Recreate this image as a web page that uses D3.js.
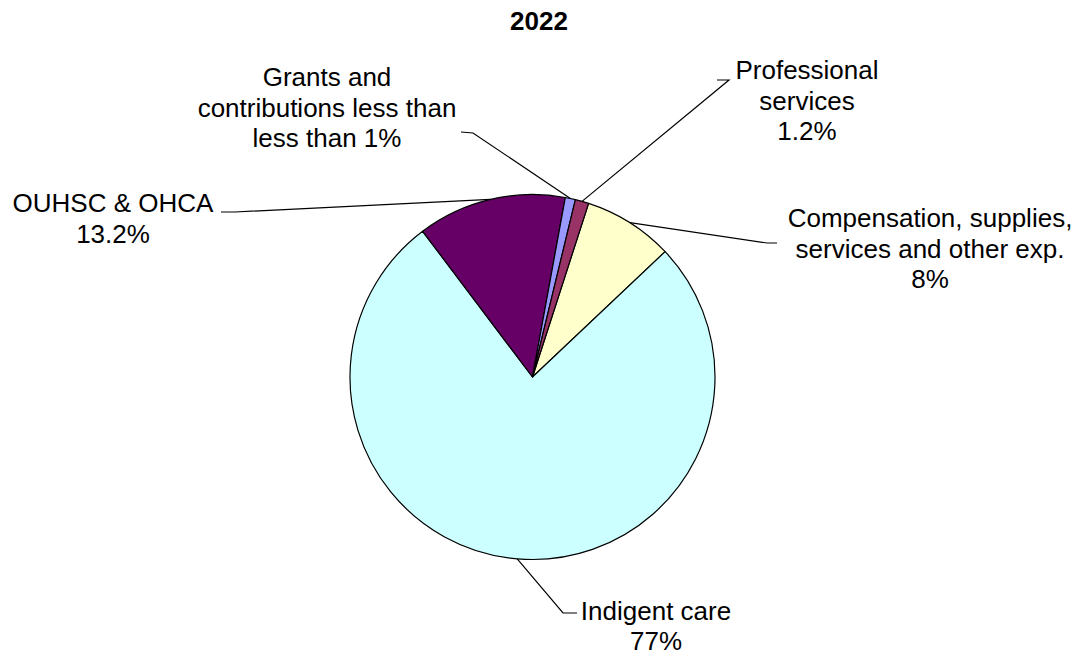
<!DOCTYPE html>
<html>
<head>
<meta charset="utf-8">
<script src="https://cdn.jsdelivr.net/npm/d3@7"></script>
<style>
  html, body { margin: 0; padding: 0; background: #fff; }
  svg { display: block; font-family: "Liberation Sans", Arial, sans-serif; }
</style>
</head>
<body>
<svg id="chart" width="1078" height="654"></svg>
<script>
// ---- data ----
const title = "2022";
const categories = ["Compensation, supplies, services and other exp.", "Indigent care", "OUHSC & OHCA", "Grants and contributions less than less than 1%", "Professional services"];
const values = [8.0, 77.0, 13.2, 0.9, 1.2];
const labelLines = [
  ["Compensation, supplies,", "services and other exp.", "8%"],
  ["Indigent care", "77%"],
  ["OUHSC & OHCA", "13.2%"],
  ["Grants and", "contributions less than", "less than 1%"],
  ["Professional", "services", "1.2%"]
];
const colors = ["#FFFFCC", "#CCFFFF", "#660066", "#9999FF", "#993366"];

// ---- layout ----
const W = 1078, H = 654;
const cx = 532.5, cy = 377, R = 182.5;
const startDeg = 17.9;
const fontSize = 26, lineGap = 30.7;
// label block: anchor x (center), first baseline y, leader elbow and end
const labelLayout = [
  { x: 930, y: 227, elbow: [767, 243], end: [777, 243], gap: 30.7 },
  { x: 656, y: 620, elbow: [563, 613], end: [577, 613], gap: 29.5 },
  { x: 113, y: 212, elbow: [235, 212], end: [221, 212], gap: 30.7 },
  { x: 327, y: 86,  elbow: [473, 133], end: [461, 132], gap: 30.7 },
  { x: 807, y: 79,  elbow: [729, 80],  end: [717, 80],  gap: 30.7 }
];

const svg = d3.select("#chart");

svg.append("text")
  .attr("x", 539).attr("y", 30)
  .attr("text-anchor", "middle")
  .attr("font-size", 26).attr("font-weight", "bold")
  .attr("fill", "#000")
  .text(title);

const a0 = startDeg * Math.PI / 180;
const pie = d3.pie().sort(null).value(d => d).startAngle(a0).endAngle(a0 + 2 * Math.PI);
const arcs = pie(values);
const arc = d3.arc().innerRadius(0).outerRadius(R);

const g = svg.append("g").attr("transform", `translate(${cx},${cy})`);
g.selectAll("path.slice").data(arcs).enter().append("path")
  .attr("class", "slice")
  .attr("d", arc)
  .attr("fill", (d, i) => colors[i])
  .attr("stroke", "#000")
  .attr("stroke-width", 1.2)
  .attr("stroke-linejoin", "round");

// leader lines
arcs.forEach((d, i) => {
  const m = (d.startAngle + d.endAngle) / 2;
  const px = cx + R * Math.sin(m), py = cy - R * Math.cos(m);
  const L = labelLayout[i];
  svg.append("polyline")
    .attr("points", [[px, py], L.elbow, L.end].map(p => p.join(",")).join(" "))
    .attr("fill", "none")
    .attr("stroke", "#000")
    .attr("stroke-width", 1.2);
});

// labels
labelLines.forEach((lines, i) => {
  const L = labelLayout[i];
  const t = svg.append("text")
    .attr("text-anchor", "middle")
    .attr("font-size", fontSize)
    .attr("fill", "#000");
  lines.forEach((s, k) => {
    t.append("tspan").attr("x", L.x).attr("y", L.y + k * L.gap).text(s);
  });
});
</script>
</body>
</html>
